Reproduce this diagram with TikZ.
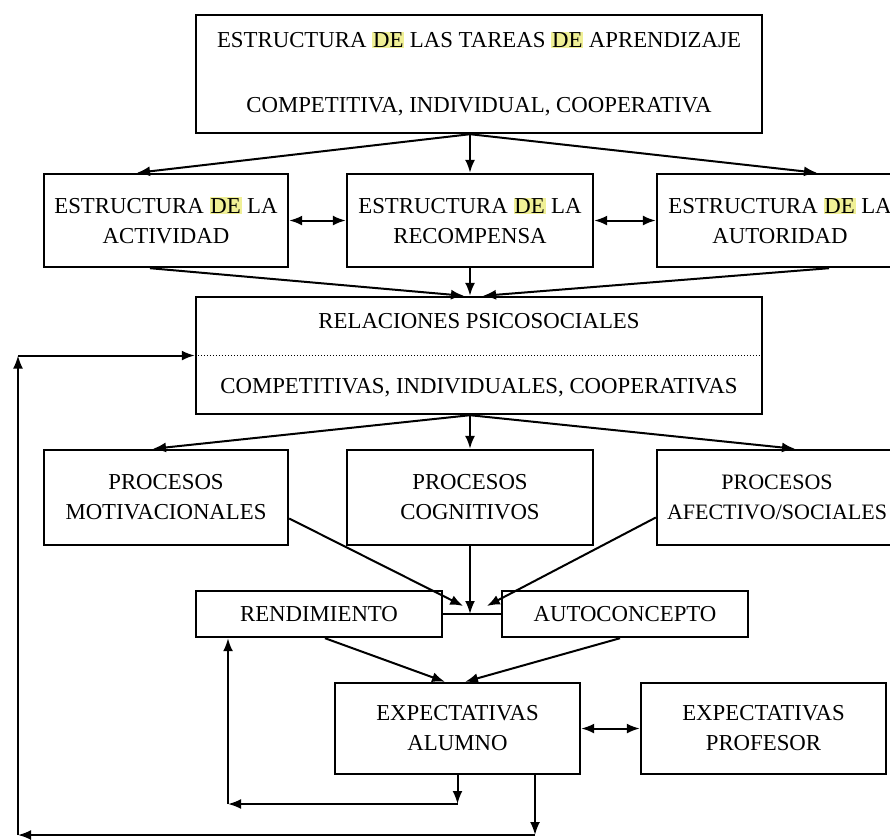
\documentclass[tikz,border=0pt]{standalone}
\usepackage{fontspec}
\setmainfont{Liberation Serif}
\usepackage{xcolor}
\usepackage{tikz}
\usetikzlibrary{calc,arrows.meta}
\definecolor{resalte}{RGB}{240,240,150}
\newcommand{\marcaDE}{{\setlength{\fboxsep}{0.8pt}\colorbox{resalte}{DE}}}

\begin{document}
\begin{tikzpicture}[x=1pt, y=-1pt,
  caja/.style={draw, line width=2.4pt, align=center, inner sep=2pt,
    font=\fontsize{22.8}{30}\selectfont},
  flecha/.style={-{Latex[length=13pt,width=10pt]}, line width=2pt},
  doble/.style={{Latex[length=13pt,width=10pt]}-{Latex[length=13pt,width=10pt]}, line width=2pt}]
\useasboundingbox (0,0) rectangle (890,839);
\clip (0,0) rectangle (890,839);

% task structure
\node[caja, minimum width=566pt, minimum height=118pt] (tareas) at (479,74)
  {ESTRUCTURA \marcaDE{} LAS TAREAS \marcaDE{} APRENDIZAJE\\[35pt]COMPETITIVA, INDIVIDUAL, COOPERATIVA};

% three structures
\node[caja, minimum width=244pt, minimum height=93pt] (actividad) at (166,220.5)
  {ESTRUCTURA \marcaDE{} LA\\ACTIVIDAD};
\node[caja, minimum width=246pt, minimum height=93pt] (recompensa) at (470,220.5)
  {ESTRUCTURA \marcaDE{} LA\\RECOMPENSA};
\node[caja, minimum width=246pt, minimum height=93pt] (autoridad) at (780,220.5)
  {ESTRUCTURA \marcaDE{} LA\\AUTORIDAD};

% psychosocial relations
\node[caja, minimum width=566pt, minimum height=117pt] (relaciones) at (479,355.5)
  {RELACIONES PSICOSOCIALES\\[35pt]COMPETITIVAS, INDIVIDUALES, COOPERATIVAS};
\draw[dotted, line width=1pt] (relaciones.west) -- (relaciones.east);

% processes
\node[caja, minimum width=244pt, minimum height=95pt] (motivacionales) at (166,497.5)
  {PROCESOS\\MOTIVACIONALES};
\node[caja, minimum width=246pt, minimum height=95pt] (cognitivos) at (470,497.5)
  {PROCESOS\\COGNITIVOS};
\node[caja, minimum width=240pt, minimum height=95pt, font=\fontsize{22}{30}\selectfont]
  (afectivos) at (777,497.5) {PROCESOS\\AFECTIVO/SOCIALES};

% outcomes
\node[caja, minimum width=246pt, minimum height=46pt] (rendimiento) at (319,614) {RENDIMIENTO};
\node[caja, minimum width=246pt, minimum height=46pt] (autoconcepto) at (625,614) {AUTOCONCEPTO};

% expectations
\node[caja, minimum width=245pt, minimum height=91pt] (alumno) at (457.5,728.5)
  {EXPECTATIVAS\\ALUMNO};
\node[caja, minimum width=245pt, minimum height=91pt] (profesor) at (763.5,728.5)
  {EXPECTATIVAS\\PROFESOR};

% feedback corners
\coordinate (c1) at (457.5,804);
\coordinate (c2) at (228,804);
\coordinate (c3) at (535,835);
\coordinate (c4) at (18,835);
\coordinate (c5) at (18,355.5);

% top level arrows
\draw[flecha] (tareas.south -| recompensa.north) -- ($(actividad.north)+(-29,0)$);
\draw[flecha] (tareas.south -| recompensa.north) -- (recompensa.north);
\draw[flecha] (tareas.south -| recompensa.north) -- ($(autoridad.north)+(37,0)$);
\draw[doble] (actividad) -- (recompensa);
\draw[doble] (recompensa) -- (autoridad);
\draw[flecha] ($(actividad.south)+(-16,0)$) -- ($(relaciones.north)+(-15,0)$);
\draw[flecha] (recompensa.south) -- (relaciones.north -| recompensa.south);
\draw[flecha] ($(autoridad.south)+(49,0)$) -- ($(relaciones.north)+(4,0)$);

% relations to processes
\draw[flecha] (relaciones.south -| cognitivos.north) -- ($(motivacionales.north)+(-13,0)$);
\draw[flecha] (relaciones.south -| cognitivos.north) -- (cognitivos.north);
\draw[flecha] (relaciones.south -| cognitivos.north) -- ($(afectivos.north)+(18,0)$);

% processes to outcomes
\draw[line width=2pt] (rendimiento) -- (autoconcepto);
\draw[flecha] ($(motivacionales.east)+(0,21)$) -- ($(rendimiento.east)+(20,-8)$);
\draw[flecha] (cognitivos.south) -- (cognitivos.south |- rendimiento.east);
\draw[flecha] ($(afectivos.west)+(0,20)$) -- ($(autoconcepto.west)+(-14,-8)$);

% outcomes to expectations
\draw[flecha] ($(rendimiento.south)+(6,0)$) -- ($(alumno.north)+(-12.5,0)$);
\draw[flecha] ($(autoconcepto.south)+(-5,0)$) -- ($(alumno.north)+(7.5,0)$);
\draw[doble] (alumno) -- (profesor);

% inner loop
\draw[flecha] (alumno.south) -- (c1);
\draw[flecha] (c1) -- (c2);
\draw[flecha] (c2) -- (rendimiento.south -| c2);

% outer loop
\draw[flecha] (alumno.south -| c3) -- (c3);
\draw[flecha] (c3) -- (c4);
\draw[flecha] (c4) -- (c5);
\draw[flecha] (c5) -- (relaciones.west);
\end{tikzpicture}
\end{document}
